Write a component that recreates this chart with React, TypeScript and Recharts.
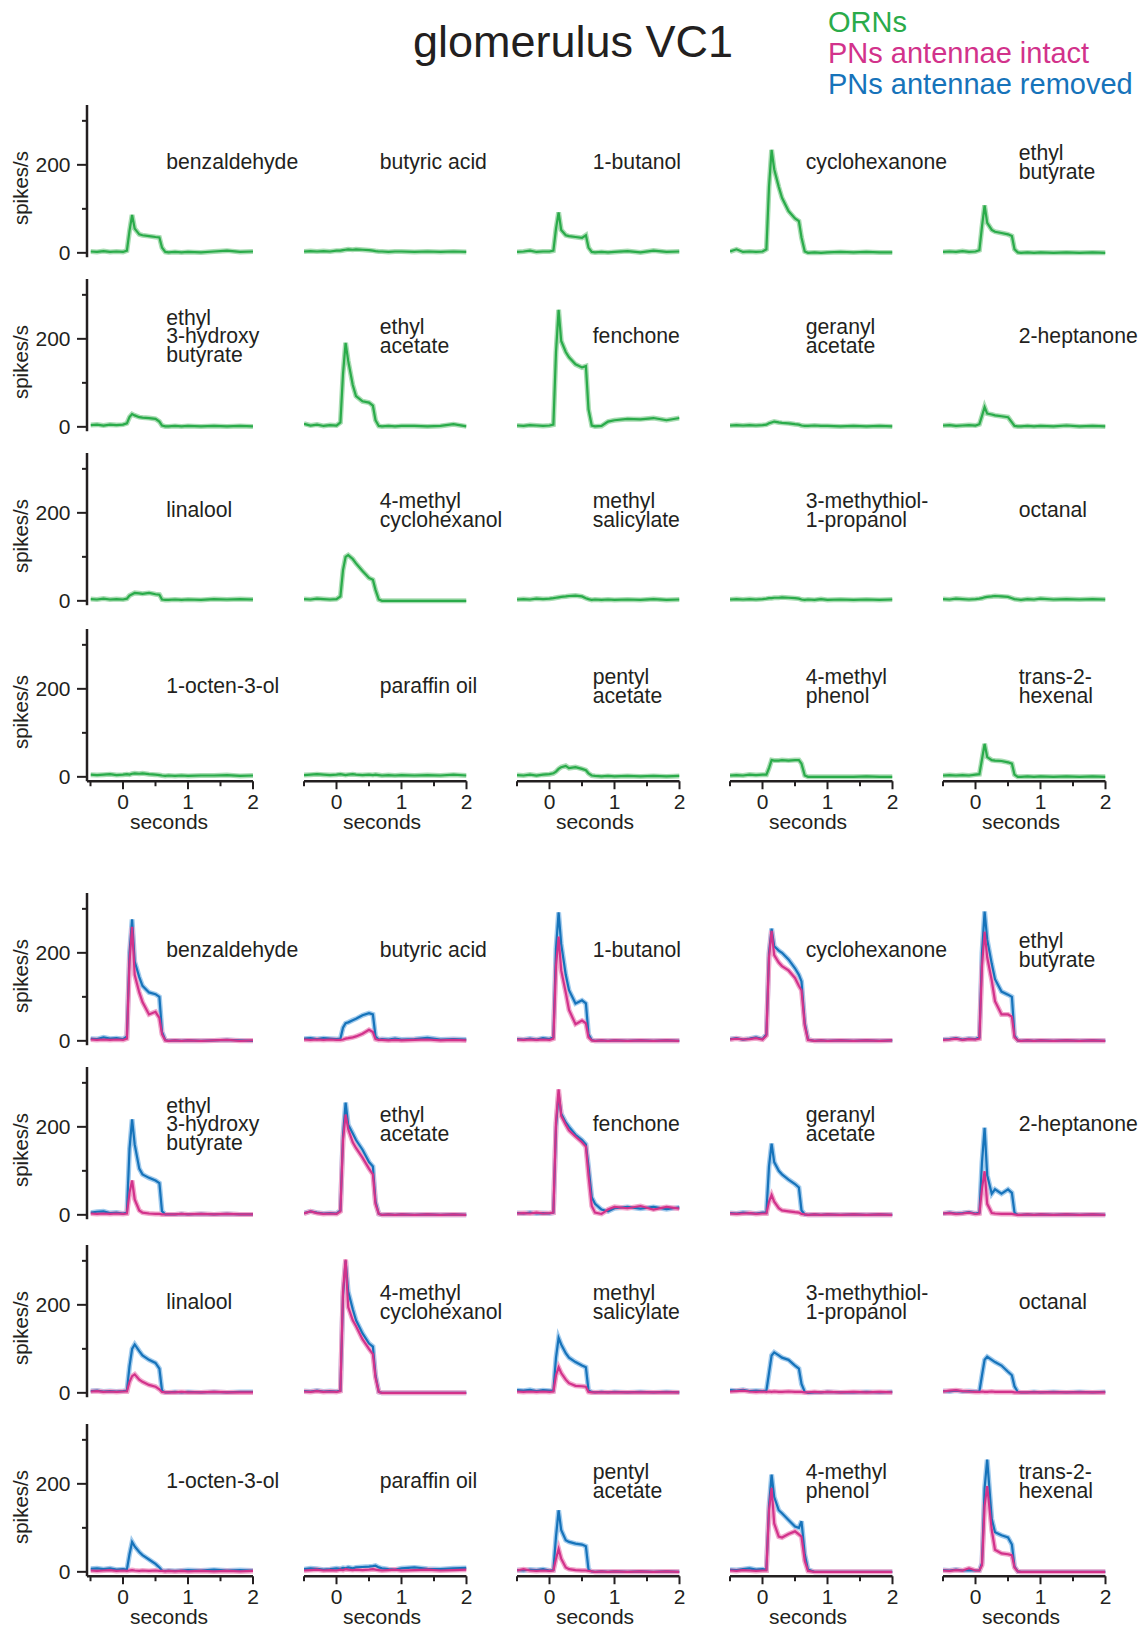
import React from 'react';
import { LineChart, Line, XAxis, YAxis, ReferenceDot } from 'recharts';

// sample times (s) shared by every trace
const TIME = [-0.5, -0.4, -0.3, -0.2, -0.1, 0, 0.06, 0.1, 0.14, 0.18, 0.25, 0.3, 0.4, 0.5, 0.56, 0.6, 0.65, 0.7, 0.8, 0.9, 1.0, 1.2, 1.4, 1.6, 1.8, 2.0];

// ORN firing rates (spikes/s)
const ornBenzaldehyde = [3, 2, 4, 2, 3, 2, 5, 50, 86, 55, 42, 40, 38, 36, 35, 12, 2, 1, 2, 1, 2, 1, 3, 5, 2, 3];
const ornButyricAcid = [3, 4, 3, 4, 3, 5, 5, 6, 7, 8, 7, 8, 7, 6, 5, 4, 3, 3, 2, 3, 3, 2, 3, 2, 3, 2];
const ornButanol = [2, 3, 5, 2, 3, 3, 5, 55, 92, 52, 40, 38, 36, 34, 40, 12, 2, 1, 2, 1, 2, 4, 1, 5, 2, 3];
const ornCyclohexanone = [3, 8, 2, 3, 2, 3, 8, 150, 234, 190, 150, 125, 95, 78, 72, 35, 3, 0, 1, 0, 1, 2, 1, 2, 1, 1];
const ornEthylButyrate = [2, 3, 2, 4, 2, 3, 6, 60, 108, 68, 52, 48, 45, 42, 38, 8, 1, 0, 1, 0, 1, 0, 1, 0, 1, 0];
const ornEthylHydroxyButyrate = [4, 5, 3, 5, 4, 5, 8, 22, 29, 26, 22, 21, 20, 18, 12, 3, 1, 1, 2, 1, 2, 1, 2, 1, 2, 1];
const ornEthylAcetate = [7, 3, 5, 2, 4, 3, 10, 120, 191, 150, 95, 70, 58, 55, 48, 15, 2, 1, 2, 1, 2, 2, 1, 2, 6, 1];
const ornFenchone = [3, 2, 4, 3, 2, 3, 5, 170, 266, 195, 170, 158, 142, 135, 138, 40, 3, 1, 2, 12, 15, 18, 17, 20, 15, 20];
const ornGeranylAcetate = [3, 4, 3, 4, 3, 4, 5, 8, 10, 12, 10, 9, 8, 6, 5, 3, 2, 2, 3, 2, 2, 1, 2, 1, 2, 1];
const ornHeptanone = [3, 4, 2, 3, 4, 3, 6, 25, 45, 30, 28, 26, 24, 22, 10, 2, 1, 1, 2, 1, 2, 1, 3, 1, 2, 1];
const ornLinalool = [4, 3, 5, 3, 4, 3, 5, 12, 15, 18, 17, 16, 18, 15, 14, 3, 2, 2, 3, 2, 3, 2, 4, 3, 4, 3];
const ornMethylCyclohexanol = [4, 3, 5, 4, 3, 4, 10, 70, 100, 104, 95, 85, 68, 52, 48, 25, 3, 0, 0, 0, 0, 0, 0, 0, 0, 0];
const ornMethylSalicylate = [3, 4, 3, 5, 4, 5, 6, 7, 8, 9, 10, 11, 12, 10, 6, 4, 2, 3, 2, 3, 2, 3, 2, 4, 2, 3];
const ornMethylthiolPropanol = [3, 4, 3, 4, 3, 4, 5, 6, 6, 7, 7, 8, 7, 6, 5, 3, 2, 3, 2, 4, 2, 3, 2, 3, 2, 3];
const ornOctanal = [4, 3, 5, 4, 3, 4, 5, 6, 8, 9, 10, 11, 10, 9, 6, 4, 3, 2, 4, 3, 5, 3, 4, 3, 4, 3];
const ornOctenol = [5, 4, 5, 6, 4, 5, 6, 5, 7, 8, 7, 8, 6, 5, 4, 3, 2, 3, 2, 3, 2, 3, 3, 4, 2, 3];
const ornParaffinOil = [4, 5, 6, 5, 4, 5, 6, 5, 4, 5, 6, 5, 4, 5, 4, 5, 4, 3, 4, 3, 4, 3, 4, 3, 5, 3];
const ornPentylAcetate = [4, 3, 5, 3, 5, 6, 8, 12, 18, 22, 25, 20, 22, 18, 15, 8, 3, 2, 1, 2, 1, 2, 1, 2, 1, 2];
const ornMethylPhenol = [3, 4, 3, 5, 4, 5, 5, 20, 38, 37, 37, 38, 37, 38, 38, 30, 3, 0, 0, 0, 0, 0, 0, 1, 0, 0];
const ornHexenal = [3, 4, 3, 4, 3, 5, 6, 40, 75, 45, 38, 37, 36, 33, 30, 5, 0, 0, 1, 0, 1, 0, 1, 0, 1, 0];

// PN firing rates, antennae removed
const removedBenzaldehyde = [5, 4, 8, 5, 6, 4, 10, 200, 276, 180, 145, 125, 110, 106, 100, 20, 2, 0, 1, 0, 1, 0, 1, 2, 1, 0];
const removedButyricAcid = [5, 6, 4, 6, 5, 4, 5, 30, 40, 42, 47, 50, 58, 63, 60, 10, 3, 4, 3, 5, 3, 4, 7, 3, 4, 3];
const removedButanol = [4, 3, 5, 3, 6, 4, 8, 210, 292, 220, 150, 115, 85, 92, 85, 15, 2, 0, 1, 0, 1, 0, 1, 0, 1, 0];
const removedCyclohexanone = [4, 6, 3, 5, 8, 4, 15, 200, 255, 215, 205, 200, 185, 165, 150, 135, 40, 3, 0, 1, 0, 1, 0, 1, 0, 1];
const removedEthylButyrate = [3, 4, 6, 3, 5, 4, 8, 200, 294, 230, 175, 140, 112, 105, 100, 12, 1, 0, 1, 0, 1, 0, 1, 0, 1, 0];
const removedEthylHydroxyButyrate = [5, 7, 8, 4, 5, 3, 5, 150, 217, 160, 105, 92, 84, 78, 72, 8, 1, 1, 1, 2, 1, 2, 1, 2, 1, 1];
const removedEthylAcetate = [4, 8, 5, 3, 4, 3, 10, 180, 255, 205, 185, 170, 148, 120, 110, 30, 2, 0, 1, 0, 1, 0, 1, 0, 1, 0];
const removedFenchone = [4, 3, 5, 3, 4, 3, 5, 200, 275, 230, 210, 200, 182, 170, 160, 110, 40, 25, 12, 8, 15, 18, 14, 18, 13, 17];
const removedGeranylAcetate = [4, 3, 5, 4, 3, 5, 5, 110, 162, 120, 100, 92, 80, 70, 62, 10, 1, 0, 1, 0, 1, 0, 1, 0, 1, 0];
const removedHeptanone = [3, 5, 3, 4, 6, 3, 5, 120, 198, 90, 48, 58, 48, 58, 50, 5, 0, 0, 1, 0, 1, 0, 1, 0, 1, 0];
const removedLinalool = [4, 5, 3, 4, 3, 4, 5, 60, 100, 110, 95, 85, 75, 68, 55, 5, 1, 1, 2, 1, 2, 1, 2, 1, 2, 2];
const removedMethylCyclohexanol = [4, 3, 5, 3, 4, 3, 5, 220, 300, 230, 190, 165, 135, 112, 105, 40, 2, 0, 0, 0, 0, 0, 0, 0, 0, 0];
const removedMethylSalicylate = [6, 5, 7, 4, 6, 5, 5, 80, 125, 110, 90, 80, 70, 62, 58, 5, 2, 1, 2, 1, 2, 1, 2, 1, 2, 1];
const removedMethylthiolPropanol = [6, 5, 7, 4, 5, 4, 5, 45, 85, 92, 85, 80, 75, 62, 55, 20, 2, 0, 1, 1, 2, 1, 1, 2, 1, 2];
const removedOctanal = [4, 3, 5, 3, 4, 3, 3, 40, 75, 82, 75, 70, 62, 48, 40, 15, 2, 1, 1, 2, 1, 2, 1, 2, 1, 2];
const removedOctenol = [7, 8, 6, 8, 5, 6, 5, 40, 68, 58, 45, 38, 28, 18, 10, 3, 2, 3, 2, 3, 4, 3, 5, 3, 4, 3];
const removedParaffinOil = [6, 8, 7, 5, 6, 8, 7, 9, 8, 10, 8, 10, 11, 12, 13, 14, 10, 8, 6, 5, 8, 10, 7, 6, 8, 9];
const removedPentylAcetate = [4, 3, 5, 4, 6, 3, 4, 80, 140, 95, 72, 68, 64, 62, 58, 5, 1, 0, 1, 0, 1, 0, 1, 0, 1, 0];
const removedMethylPhenol = [5, 4, 6, 8, 5, 6, 5, 150, 221, 170, 140, 133, 118, 103, 100, 115, 40, 5, 0, 0, 0, 0, 0, 0, 0, 0];
const removedHexenal = [4, 3, 5, 3, 4, 3, 3, 20, 190, 255, 120, 90, 83, 78, 62, 12, 1, 0, 0, 0, 0, 0, 0, 0, 0, 0];

// PN firing rates, antennae intact
const intactBenzaldehyde = [3, 2, 3, 2, 3, 2, 5, 180, 259, 150, 110, 88, 60, 66, 52, 15, 1, 0, 1, 0, 1, 0, 1, 2, 0, 1];
const intactButyricAcid = [3, 2, 3, 2, 3, 2, 2, 3, 5, 6, 8, 10, 16, 25, 20, 4, 2, 2, 1, 2, 1, 2, 3, 1, 2, 1];
const intactButanol = [3, 2, 3, 2, 3, 2, 5, 170, 237, 160, 110, 70, 38, 46, 40, 8, 1, 0, 1, 0, 1, 0, 1, 0, 1, 0];
const intactCyclohexanone = [3, 5, 3, 4, 6, 3, 12, 190, 250, 195, 178, 170, 160, 143, 125, 115, 35, 2, 0, 1, 0, 1, 0, 1, 0, 1];
const intactEthylButyrate = [2, 3, 5, 2, 4, 3, 5, 170, 248, 190, 137, 90, 60, 60, 55, 8, 1, 0, 1, 0, 1, 0, 1, 0, 1, 0];
const intactEthylHydroxyButyrate = [3, 2, 3, 2, 3, 2, 3, 50, 78, 35, 10, 5, 3, 2, 2, 1, 1, 1, 1, 2, 1, 2, 1, 2, 1, 1];
const intactEthylAcetate = [3, 8, 4, 2, 3, 2, 8, 170, 228, 195, 165, 152, 130, 105, 92, 25, 2, 0, 1, 0, 1, 0, 1, 0, 1, 0];
const intactFenchone = [3, 4, 3, 5, 3, 4, 5, 210, 285, 225, 205, 192, 178, 165, 155, 90, 20, 5, 2, 12, 18, 15, 20, 12, 18, 14];
const intactGeranylAcetate = [3, 2, 3, 4, 2, 3, 3, 30, 45, 30, 15, 10, 8, 6, 5, 2, 1, 0, 1, 0, 1, 0, 1, 0, 1, 0];
const intactHeptanone = [3, 4, 2, 3, 5, 2, 3, 60, 99, 25, 4, 3, 2, 2, 2, 1, 0, 0, 1, 0, 1, 0, 1, 0, 1, 0];
const intactLinalool = [3, 4, 2, 3, 2, 3, 3, 25, 38, 42, 30, 25, 18, 14, 8, 2, 1, 1, 1, 2, 1, 1, 2, 1, 1, 1];
const intactMethylCyclohexanol = [3, 2, 4, 2, 3, 2, 4, 230, 303, 195, 165, 152, 122, 100, 88, 35, 2, 0, 0, 0, 0, 0, 0, 0, 0, 0];
const intactMethylSalicylate = [3, 2, 3, 2, 3, 2, 3, 40, 58, 45, 30, 22, 16, 15, 14, 2, 1, 1, 1, 1, 1, 1, 1, 1, 1, 1];
const intactMethylthiolPropanol = [3, 4, 5, 3, 2, 3, 2, 3, 2, 3, 2, 2, 3, 2, 2, 2, 1, 1, 2, 1, 2, 1, 2, 1, 2, 1];
const intactOctanal = [3, 5, 6, 4, 3, 2, 2, 3, 2, 2, 3, 2, 2, 2, 2, 1, 1, 1, 1, 1, 1, 1, 1, 1, 1, 1];
const intactOctenol = [3, 2, 3, 4, 2, 3, 2, 3, 4, 3, 2, 3, 2, 3, 2, 2, 1, 2, 1, 2, 1, 2, 1, 2, 1, 2];
const intactParaffinOil = [3, 4, 5, 3, 4, 3, 5, 4, 6, 5, 4, 5, 4, 5, 6, 5, 4, 3, 4, 5, 3, 4, 5, 3, 4, 5];
const intactPentylAcetate = [3, 6, 3, 2, 3, 2, 3, 30, 52, 30, 10, 6, 4, 3, 3, 2, 1, 0, 1, 0, 1, 0, 1, 0, 1, 0];
const intactMethylPhenol = [3, 2, 4, 3, 2, 3, 3, 140, 191, 110, 80, 78, 86, 92, 85, 80, 25, 2, 0, 0, 0, 0, 0, 0, 0, 0];
const intactHexenal = [3, 2, 4, 3, 8, 3, 3, 15, 150, 195, 95, 50, 42, 40, 38, 10, 1, 0, 0, 0, 0, 0, 0, 0, 0, 0];

// odor names as printed (line breaks kept), in panel order
const ODOR_LABELS = [
  ['benzaldehyde'], ['butyric acid'], ['1-butanol'], ['cyclohexanone'], ['ethyl', 'butyrate'],
  ['ethyl', '3-hydroxy', 'butyrate'], ['ethyl', 'acetate'], ['fenchone'], ['geranyl', 'acetate'], ['2-heptanone'],
  ['linalool'], ['4-methyl', 'cyclohexanol'], ['methyl', 'salicylate'], ['3-methythiol-', '1-propanol'], ['octanal'],
  ['1-octen-3-ol'], ['paraffin oil'], ['pentyl', 'acetate'], ['4-methyl', 'phenol'], ['trans-2-', 'hexenal'],
];

const ORN_RATES = [
  ornBenzaldehyde, ornButyricAcid, ornButanol, ornCyclohexanone, ornEthylButyrate,
  ornEthylHydroxyButyrate, ornEthylAcetate, ornFenchone, ornGeranylAcetate, ornHeptanone,
  ornLinalool, ornMethylCyclohexanol, ornMethylSalicylate, ornMethylthiolPropanol, ornOctanal,
  ornOctenol, ornParaffinOil, ornPentylAcetate, ornMethylPhenol, ornHexenal,
];
const REMOVED_RATES = [
  removedBenzaldehyde, removedButyricAcid, removedButanol, removedCyclohexanone, removedEthylButyrate,
  removedEthylHydroxyButyrate, removedEthylAcetate, removedFenchone, removedGeranylAcetate, removedHeptanone,
  removedLinalool, removedMethylCyclohexanol, removedMethylSalicylate, removedMethylthiolPropanol, removedOctanal,
  removedOctenol, removedParaffinOil, removedPentylAcetate, removedMethylPhenol, removedHexenal,
];
const INTACT_RATES = [
  intactBenzaldehyde, intactButyricAcid, intactButanol, intactCyclohexanone, intactEthylButyrate,
  intactEthylHydroxyButyrate, intactEthylAcetate, intactFenchone, intactGeranylAcetate, intactHeptanone,
  intactLinalool, intactMethylCyclohexanol, intactMethylSalicylate, intactMethylthiolPropanol, intactOctanal,
  intactOctenol, intactParaffinOil, intactPentylAcetate, intactMethylPhenol, intactHexenal,
];

const X_TICKS = [-0.5, 0, 0.5, 1, 1.5, 2];
const Y_TICKS = [0, 100, 200, 300];

const GREEN = '#2aab4a';
const GREEN_BAND = '#a9dcb3';
const MAGENTA = '#d2328b';
const MAGENTA_BAND = '#f1a9cd';
const BLUE = '#1673ba';
const BLUE_BAND = '#a2cbed';
const INK = '#231f20';
const FONT = '"Liberation Sans", Arial, Helvetica, sans-serif';

// layout (px)
const COL_ZERO = [123, 336, 549, 762, 975];
const TOP_ZEROS = [253, 427, 601, 777];
const BOTTOM_ZEROS = [1041, 1215, 1393, 1572];
const PX_PER_S = 65;
const PX_PER_UNIT = 0.44;
const Y_MIN = -10;
const Y_MAX = 336;
const PLOT_H = (Y_MAX - Y_MIN) * PX_PER_UNIT;
const PLOT_W = 2.5 * PX_PER_S;
const M_TOP = 12;
const M_LEFT = 12;
const M_RIGHT = 90;
const M_BOTTOM = 14;
const Y_AXIS_W = 75;
const X_AXIS_H = 60;

function XTick(props: any) {
  const { x, y, payload } = props;
  const v = payload.value;
  const major = Number.isInteger(v);
  return (
    <g>
      <line x1={x} x2={x} y1={y} y2={y + (major ? 8 : 5)} stroke={INK} strokeWidth={2} />
      {major && (
        <text x={x} y={y + 28} textAnchor="middle" fontSize={21} fill={INK} fontFamily={FONT}>{v}</text>
      )}
    </g>
  );
}

function YTick(props: any) {
  const { x, y, payload } = props;
  const v = payload.value;
  const major = v % 200 === 0;
  return (
    <g>
      <line x1={x - (major ? 10 : 5)} x2={x} y1={y} y2={y} stroke={INK} strokeWidth={2} />
      {major && (
        <text x={x - 16.5} y={y + 7.5} textAnchor="end" fontSize={21} fill={INK} fontFamily={FONT}>{v}</text>
      )}
    </g>
  );
}

function OdorLabel({ cx, cy, lines }: { cx: number; cy: number; lines: string[] }) {
  const n = lines.length;
  return (
    <text fontSize={21.2} fill={INK} fontFamily={FONT}>
      {lines.map((s, i) => (
        <tspan key={i} x={cx} y={cy + 7.5 + (i - (n - 1) / 2) * 18.7}>{s}</tspan>
      ))}
    </text>
  );
}

interface PanelProps {
  idx: number;
  col: number;
  zeroY: number;
  showX: boolean;
  pn: boolean;
}

function Panel({ idx, col, zeroY, showX, pn }: PanelProps) {
  const first = col === 0;
  const padLeft = first ? 3.5 : 0;
  const width = M_LEFT + (first ? Y_AXIS_W : 0) + padLeft + PLOT_W + M_RIGHT;
  const height = M_TOP + PLOT_H + (showX ? X_AXIS_H : M_BOTTOM);
  const left = first ? 0 : COL_ZERO[col] - 0.5 * PX_PER_S - M_LEFT;
  const top = zeroY - Y_MAX * PX_PER_UNIT - M_TOP;

  const data = TIME.map((t, i) => ({
    t,
    orn: ORN_RATES[idx][i],
    removed: REMOVED_RATES[idx][i],
    intact: INTACT_RATES[idx][i],
  }));

  const lines = ODOR_LABELS[idx];

  return (
    <div style={{ position: 'absolute', left, top }}>
      <LineChart
        width={width}
        height={height}
        data={data}
        margin={{ top: M_TOP, right: M_RIGHT, left: M_LEFT, bottom: showX ? 0 : M_BOTTOM }}
      >
        <XAxis
          dataKey="t"
          type="number"
          domain={[-0.5, 2]}
          ticks={X_TICKS}
          interval={0}
          allowDataOverflow
          hide={!showX}
          height={X_AXIS_H}
          padding={{ left: padLeft, right: 0 }}
          tickSize={0}
          tickMargin={0}
          tickLine={false}
          tick={<XTick />}
          axisLine={{ stroke: INK, strokeWidth: 2.5 }}
        />
        <YAxis
          type="number"
          domain={[Y_MIN, Y_MAX]}
          ticks={Y_TICKS}
          interval={0}
          allowDataOverflow
          hide={!first}
          width={Y_AXIS_W}
          tickSize={0}
          tickMargin={0}
          tickLine={false}
          tick={<YTick />}
          axisLine={{ stroke: INK, strokeWidth: 2.5 }}
        />
        {pn ? (
          <>
            <Line dataKey="removed" stroke={BLUE_BAND} strokeWidth={5} dot={false} isAnimationActive={false} />
            <Line dataKey="intact" stroke={MAGENTA_BAND} strokeWidth={5} dot={false} isAnimationActive={false} />
            <Line dataKey="removed" stroke={BLUE} strokeWidth={2.2} dot={false} isAnimationActive={false} />
            <Line dataKey="intact" stroke={MAGENTA} strokeWidth={2.2} dot={false} isAnimationActive={false} />
          </>
        ) : (
          <>
            <Line dataKey="orn" stroke={GREEN_BAND} strokeWidth={5} dot={false} isAnimationActive={false} />
            <Line dataKey="orn" stroke={GREEN} strokeWidth={2.2} dot={false} isAnimationActive={false} />
          </>
        )}
        <ReferenceDot
          x={0.665}
          y={207}
          r={0}
          ifOverflow="visible"
          shape={(p: any) => <OdorLabel cx={p.cx} cy={p.cy} lines={lines} />}
        />
      </LineChart>
    </div>
  );
}

function Block({ zeros, pn }: { zeros: number[]; pn: boolean }) {
  return (
    <>
      {zeros.map((zy, r) =>
        COL_ZERO.map((_, c) => (
          <Panel key={`${r}-${c}`} idx={r * 5 + c} col={c} zeroY={zy} showX={r === zeros.length - 1} pn={pn} />
        ))
      )}
    </>
  );
}

export default function App() {
  const allZeros = [...TOP_ZEROS, ...BOTTOM_ZEROS];
  return (
    <div
      style={{
        position: 'absolute', left: 0, top: 0, width: 1146, height: 1630,
        overflow: 'hidden', background: '#fff', fontFamily: FONT,
      }}
    >
      <svg width={1146} height={1630} style={{ position: 'absolute', left: 0, top: 0 }} fontFamily={FONT}>
        <text x={573} y={57} fontSize={45} textAnchor="middle" fill={INK}>glomerulus VC1</text>
        <text x={828} y={32} fontSize={29} fill={GREEN}>ORNs</text>
        <text x={828} y={63} fontSize={29} fill={MAGENTA}>PNs antennae intact</text>
        <text x={828} y={94} fontSize={29} fill={BLUE}>PNs antennae removed</text>
        {allZeros.map((zy) => (
          <text key={zy} transform={`translate(28 ${zy - 65}) rotate(-90)`} fontSize={20.5} textAnchor="middle" fill={INK}>
            spikes/s
          </text>
        ))}
        {[TOP_ZEROS[3], BOTTOM_ZEROS[3]].map((zy) =>
          COL_ZERO.map((cz) => (
            <text key={`${zy}-${cz}`} x={cz + 46} y={zy + 4.4 + 47.5} fontSize={21} textAnchor="middle" fill={INK}>
              seconds
            </text>
          ))
        )}
      </svg>
      <Block zeros={TOP_ZEROS} pn={false} />
      <Block zeros={BOTTOM_ZEROS} pn={true} />
    </div>
  );
}
